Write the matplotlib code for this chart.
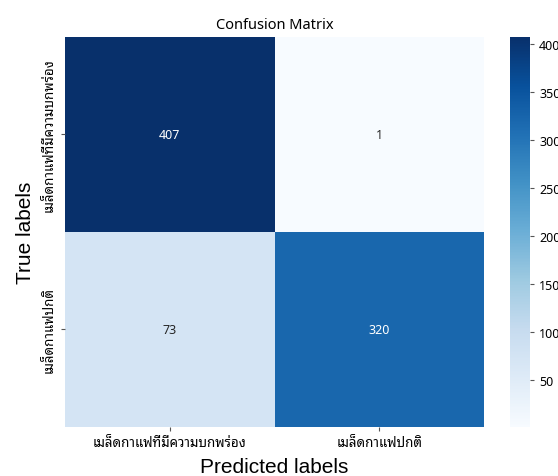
import matplotlib
matplotlib.use('Agg')
import matplotlib.pyplot as plt
import numpy as np
import seaborn as sns

classes = ['เมล็ดกาแฟที่มีความบกพร่อง', 'เมล็ดกาแฟปกติ']
cm_row_defect = [407, 1]
cm_row_normal = [73, 320]

cm = np.array([cm_row_defect, cm_row_normal])
thai = ['Noto Sans Thai Looped', 'DejaVu Sans']

fig = plt.figure(figsize=(5.58, 4.77), dpi=100)
ax = fig.add_axes([0.1165, 0.1027, 0.751, 0.818])
cax = fig.add_axes([0.914, 0.1027, 0.036, 0.818])

sns.heatmap(cm, annot=True, fmt='d', cmap='Blues', ax=ax, cbar_ax=cax,
            annot_kws={'fontsize': 9, 'family': thai})

ax.set_xticklabels(classes, family=thai, fontsize=9.6)
ax.set_yticklabels(classes, family=thai, fontsize=9.6, rotation=90, va='center')
ax.tick_params(length=3, color='#555555')
ax.set_title('Confusion Matrix', family=thai, fontsize=10.5, pad=6)
ax.set_xlabel('Predicted labels', family='Liberation Sans', fontsize=15, labelpad=6)
ax.set_ylabel('True labels', family='Liberation Sans', fontsize=15, labelpad=6)

# colorbar ticks
for t in cax.get_yticklabels():
    t.set_family(thai)
    t.set_fontsize(9)
cax.tick_params(length=3, color='#555555')

fig.savefig('out.png')
